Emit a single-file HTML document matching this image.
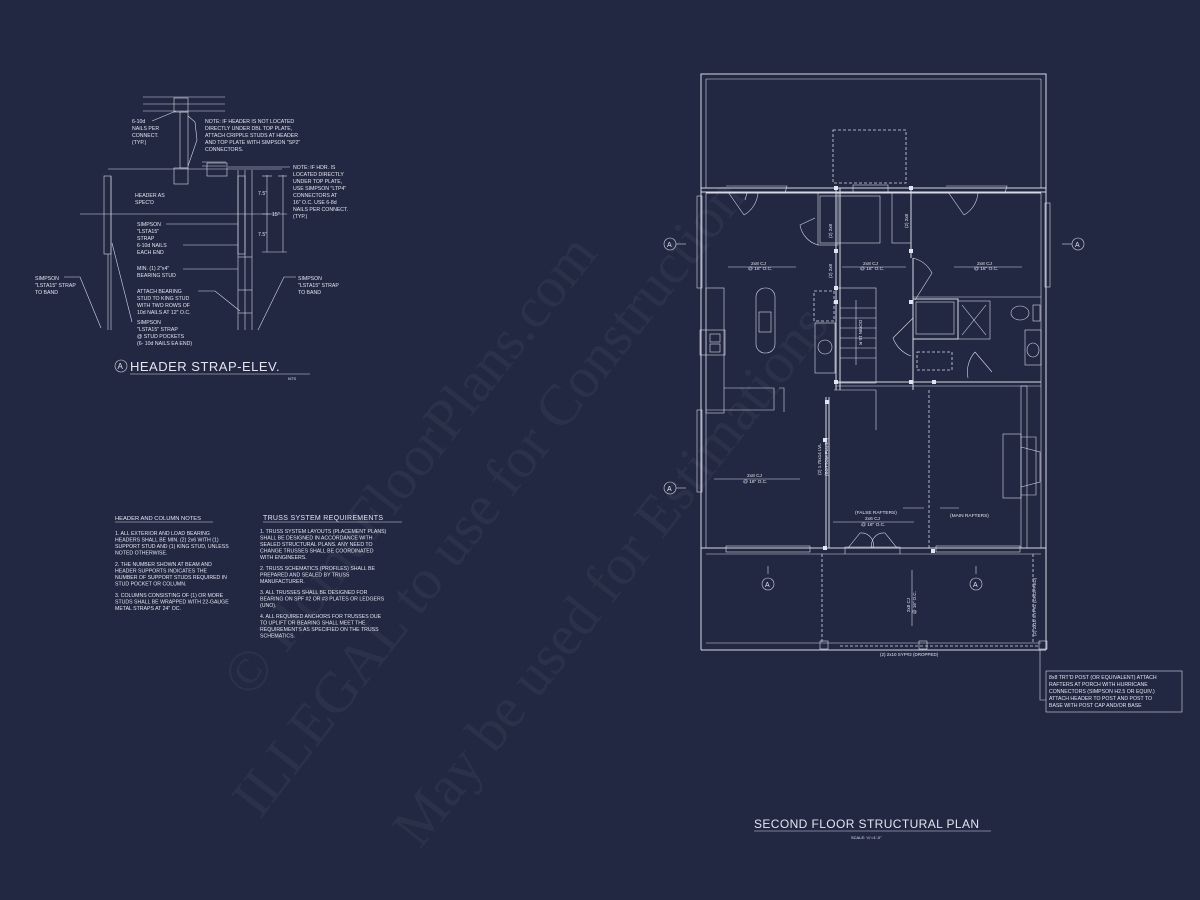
<!DOCTYPE html>
<html><head><meta charset="utf-8"><style>
html,body{margin:0;padding:0;background:#232842;}
svg{display:block}
text{font-family:"Liberation Sans",sans-serif;fill:#e2e4ee;}
.s{stroke:#d6d9e4;fill:none;stroke-width:1}
.t{stroke:#d6d9e4;fill:none;stroke-width:0.6}
.d{stroke:#d6d9e4;fill:none;stroke-width:0.8;stroke-dasharray:3 2}
.n{font-size:5.2px}
.wm{font-family:"Liberation Serif",serif;fill:#ffffff;fill-opacity:0.045;font-size:58px}
</style></head><body>
<svg width="1200" height="900" viewBox="0 0 1200 900" xmlns="http://www.w3.org/2000/svg">
<rect width="1200" height="900" fill="#232842"/>

<!-- watermark -->
<g transform="translate(250,700) rotate(-52)"><text class="wm" x="0" y="0">© HomeFloorPlans.com</text></g>
<g transform="translate(260,820) rotate(-52)"><text class="wm" x="0" y="0">ILLEGAL to use for Construction</text></g>
<g transform="translate(420,850) rotate(-52)"><text class="wm" x="0" y="0">May be used for Estimations</text></g>

<!-- HEADER STRAP DETAIL -->
<g>
<line class="t" x1="143" y1="97" x2="225" y2="97"/><line class="t" x1="143" y1="104" x2="225" y2="104"/><line class="t" x1="143" y1="111" x2="225" y2="111"/>
<rect class="t" x="174" y="98" width="14" height="14"/>
<rect class="t" x="180" y="112" width="8" height="56"/>
<rect class="t" x="174" y="168" width="14" height="16"/>
<line class="t" x1="108" y1="169" x2="282" y2="169"/>
<line class="t" x1="202" y1="162" x2="226" y2="162"/><line class="t" x1="202" y1="166" x2="226" y2="166"/>
<rect class="t" x="207" y="163" width="20" height="13"/>
<rect class="t" x="104" y="176" width="7" height="78"/>
<line class="t" x1="108" y1="254" x2="108" y2="330"/><line class="t" x1="111" y1="176" x2="111" y2="330"/>
<rect class="t" x="238" y="176" width="7" height="78"/>
<line class="t" x1="238" y1="170" x2="238" y2="330"/><line class="t" x1="245" y1="170" x2="245" y2="330"/><line class="t" x1="252" y1="170" x2="252" y2="330"/>
<line class="t" x1="238" y1="257" x2="252" y2="257"/><line class="t" x1="238" y1="290" x2="252" y2="290"/><line class="t" x1="238" y1="313" x2="252" y2="313"/>
<line class="t" x1="80" y1="214" x2="270" y2="214"/>
<line class="t" x1="267" y1="175" x2="267" y2="252"/><line class="t" x1="283" y1="175" x2="283" y2="252"/>
<line class="t" x1="262" y1="176" x2="272" y2="176"/><line class="t" x1="262" y1="252" x2="287" y2="252"/><line class="t" x1="262" y1="214" x2="287" y2="214"/><line class="t" x1="278" y1="176" x2="287" y2="176"/>
<text class="n" x="258" y="195">7.5"</text><text class="n" x="272" y="216">15"</text><text class="n" x="258" y="236">7.5"</text>
<text class="n"><tspan x="132" y="123">6-10d</tspan><tspan x="132" y="130">NAILS PER</tspan><tspan x="132" y="137">CONNECT.</tspan><tspan x="132" y="144">(TYP.)</tspan></text>
<line class="t" x1="152" y1="121" x2="176" y2="111"/>
<text class="n"><tspan x="205" y="123">NOTE: IF HEADER IS NOT LOCATED</tspan><tspan x="205" y="130">DIRECTLY UNDER DBL TOP PLATE,</tspan><tspan x="205" y="137">ATTACH CRIPPLE STUDS AT HEADER</tspan><tspan x="205" y="144">AND TOP PLATE WITH SIMPSON "SP2"</tspan><tspan x="205" y="151">CONNECTORS.</tspan></text>
<polyline class="t" points="188,116 195,122 197,140 188,166"/>
<text class="n"><tspan x="293" y="169">NOTE: IF HDR. IS</tspan><tspan x="293" y="176">LOCATED DIRECTLY</tspan><tspan x="293" y="183">UNDER TOP PLATE,</tspan><tspan x="293" y="190">USE SIMPSON "LTP4"</tspan><tspan x="293" y="197">CONNECTORS AT</tspan><tspan x="293" y="204">16" O.C. USE 6-8d</tspan><tspan x="293" y="211">NAILS PER CONNECT.</tspan><tspan x="293" y="218">(TYP.)</tspan></text>
<line class="t" x1="228" y1="167" x2="290" y2="167"/>
<text class="n"><tspan x="135" y="197">HEADER AS</tspan><tspan x="135" y="204">SPEC'D</tspan></text>
<text class="n"><tspan x="137" y="226">SIMPSON</tspan><tspan x="137" y="233">"LSTA15"</tspan><tspan x="137" y="240">STRAP</tspan><tspan x="137" y="247">6-10d NAILS</tspan><tspan x="137" y="254">EACH END</tspan></text>
<line class="t" x1="166" y1="224" x2="238" y2="224"/><line class="t" x1="183" y1="245" x2="238" y2="245"/>
<text class="n"><tspan x="137" y="270">MIN. (1) 2"x4"</tspan><tspan x="137" y="277">BEARING STUD</tspan></text><line class="t" x1="183" y1="269" x2="238" y2="269"/>
<text class="n"><tspan x="137" y="293">ATTACH BEARING</tspan><tspan x="137" y="300">STUD TO KING STUD</tspan><tspan x="137" y="307">WITH TWO ROWS OF</tspan><tspan x="137" y="314">10d NAILS AT 12" O.C.</tspan></text>
<polyline class="t" points="198,291 215,291 240,311"/>
<text class="n"><tspan x="137" y="324">SIMPSON</tspan><tspan x="137" y="331">"LSTA15" STRAP</tspan><tspan x="137" y="338">@ STUD POCKETS</tspan><tspan x="137" y="345">(6- 10d NAILS EA END)</tspan></text>
<line class="t" x1="132" y1="322" x2="112" y2="243"/>
<text class="n"><tspan x="35" y="280">SIMPSON</tspan><tspan x="35" y="287">"LSTA15" STRAP</tspan><tspan x="35" y="294">TO BAND</tspan></text><polyline class="t" points="64,277 80,277 101,328"/>
<text class="n"><tspan x="298" y="280">SIMPSON</tspan><tspan x="298" y="287">"LSTA15" STRAP</tspan><tspan x="298" y="294">TO BAND</tspan></text><polyline class="t" points="296,277 284,277 258,330"/>
<circle class="t" cx="121" cy="366" r="6"/><text x="117.5" y="369" style="font-size:8px">A</text>
<text x="130" y="371" style="font-size:13px;letter-spacing:0.5px">HEADER STRAP-ELEV.</text>
<line class="t" x1="130" y1="374" x2="310" y2="374"/>
<text class="n" x="288" y="380" style="font-size:4px">NTS</text>
</g>

<!-- NOTES -->
<g>
<text class="n" x="115" y="520" style="font-size:5.8px">HEADER AND COLUMN NOTES</text><line class="t" x1="115" y1="522" x2="213" y2="522"/>
<text class="n"><tspan x="115" y="535">1. ALL EXTERIOR AND LOAD BEARING</tspan><tspan x="115" y="541.5">HEADERS SHALL BE MIN. (2) 2x6 WITH (1)</tspan><tspan x="115" y="548">SUPPORT STUD AND (1) KING STUD, UNLESS</tspan><tspan x="115" y="554.5">NOTED OTHERWISE.</tspan>
<tspan x="115" y="566">2. THE NUMBER SHOWN AT BEAM AND</tspan><tspan x="115" y="572.5">HEADER SUPPORTS INDICATES THE</tspan><tspan x="115" y="579">NUMBER OF SUPPORT STUDS REQUIRED IN</tspan><tspan x="115" y="585.5">STUD POCKET OR COLUMN.</tspan>
<tspan x="115" y="597">3. COLUMNS CONSISTING OF (1) OR MORE</tspan><tspan x="115" y="603.5">STUDS SHALL BE WRAPPED WITH 22-GAUGE</tspan><tspan x="115" y="610">METAL STRAPS AT 24" OC.</tspan></text>
<text x="263" y="520" style="font-size:7px;letter-spacing:0.3px">TRUSS SYSTEM REQUIREMENTS</text><line class="t" x1="263" y1="522" x2="402" y2="522"/>
<text class="n"><tspan x="260" y="533">1. TRUSS SYSTEM LAYOUTS (PLACEMENT PLANS)</tspan><tspan x="260" y="539.5">SHALL BE DESIGNED IN ACCORDANCE WITH</tspan><tspan x="260" y="546">SEALED STRUCTURAL PLANS. ANY NEED TO</tspan><tspan x="260" y="552.5">CHANGE TRUSSES SHALL BE COORDINATED</tspan><tspan x="260" y="559">WITH  ENGINEERS.</tspan>
<tspan x="260" y="570">2. TRUSS SCHEMATICS (PROFILES) SHALL BE</tspan><tspan x="260" y="576.5">PREPARED AND SEALED BY TRUSS</tspan><tspan x="260" y="583">MANUFACTURER.</tspan>
<tspan x="260" y="594">3. ALL TRUSSES SHALL BE DESIGNED FOR</tspan><tspan x="260" y="600.5">BEARING ON SPF #2 OR #3 PLATES OR LEDGERS</tspan><tspan x="260" y="607">(UNO).</tspan>
<tspan x="260" y="618">4. ALL REQUIRED ANCHORS FOR TRUSSES DUE</tspan><tspan x="260" y="624.5">TO UPLIFT OR BEARING SHALL MEET THE</tspan><tspan x="260" y="631">REQUIREMENTS AS SPECIFIED ON THE TRUSS</tspan><tspan x="260" y="637.5">SCHEMATICS.</tspan></text>
</g>

<!-- PLAN -->
<g>
<rect class="s" x="701" y="74" width="345" height="118"/>
<line class="t" x1="706" y1="79" x2="1041" y2="79"/><line class="t" x1="706" y1="79" x2="706" y2="188"/><line class="t" x1="1041" y1="79" x2="1041" y2="188"/>
<rect class="d" x="833" y="130" width="73" height="53"/>
<line class="s" x1="701" y1="188" x2="1046" y2="188"/><line class="s" x1="706" y1="193" x2="1041" y2="193"/>
<line class="s" x1="701" y1="188" x2="701" y2="650"/><line class="t" x1="706" y1="193" x2="706" y2="548"/>
<line class="s" x1="1046" y1="188" x2="1046" y2="650"/><line class="t" x1="1041" y1="193" x2="1041" y2="548"/>
<line class="s" x1="701" y1="548" x2="1046" y2="548"/><line class="t" x1="706" y1="554" x2="1041" y2="554"/>
<polyline class="t" points="726,186 787,186 785,193"/><polyline class="t" points="747,193 745,200"/>
<polyline class="t" points="946,186 1007,186 1005,193"/>
<rect class="t" x="853" y="185" width="35" height="7"/>
<path class="t" d="M728,192 L744,215 M744,215 A28 28 0 0 0 758,193"/>
<path class="t" d="M948,192 L964,215 M964,215 A28 28 0 0 0 978,193"/>
<rect class="t" x="697" y="196" width="5" height="92"/><rect class="t" x="1045" y="203" width="5" height="84"/>
<rect class="t" x="697" y="410" width="5" height="82"/>
<line class="s" x1="836" y1="188" x2="836" y2="390"/><line class="s" x1="840" y1="188" x2="840" y2="390"/>
<line class="s" x1="911" y1="188" x2="911" y2="258"/><line class="s" x1="913" y1="258" x2="913" y2="390"/>
<rect class="t" x="818" y="193" width="20" height="52"/>
<rect class="t" x="820" y="196" width="60" height="47"/>
<rect class="t" x="892" y="193" width="19" height="50"/>
<path class="t" d="M815,218 L800,225 A25 25 0 0 0 818,245"/>
<line class="t" x1="913" y1="297" x2="1041" y2="297"/>
<path class="t" d="M913,258 A30 30 0 0 1 932,273 L915,300"/>
<rect class="s" x="913" y="299" width="45" height="40"/><rect class="t" x="916" y="302" width="38" height="32"/>
<rect class="t" x="958" y="301" width="32" height="38"/><line class="t" x1="962" y1="305" x2="986" y2="335"/><line class="t" x1="986" y1="305" x2="962" y2="335"/>
<ellipse class="t" cx="1020" cy="313" rx="9" ry="7"/><rect class="t" x="1033" y="305" width="7" height="16"/>
<rect class="t" x="1025" y="330" width="16" height="35"/><ellipse class="t" cx="1033" cy="350" rx="6" ry="7"/>
<path class="t" d="M913,318 L893,338 A30 30 0 0 0 911,356"/>
<rect class="d" x="917" y="352" width="35" height="18"/>
<path class="t" d="M975,352 L992,372 M975,352 A30 30 0 0 0 968,378"/>
<line class="s" x1="836" y1="382" x2="1041" y2="382"/><line class="t" x1="836" y1="386" x2="1041" y2="386"/>
<rect class="t" x="836" y="288" width="40" height="95"/>
<g class="t"><line x1="840" y1="308" x2="876" y2="308"/><line x1="840" y1="318" x2="876" y2="318"/><line x1="840" y1="328" x2="876" y2="328"/><line x1="840" y1="338" x2="876" y2="338"/><line x1="840" y1="348" x2="876" y2="348"/><line x1="840" y1="358" x2="876" y2="358"/></g>
<line class="t" x1="856" y1="300" x2="856" y2="365"/>
<line class="t" x1="876" y1="390" x2="876" y2="430"/><line class="t" x1="834" y1="390" x2="876" y2="390"/>
<rect class="d" x="814" y="291" width="20" height="30"/>
<rect class="t" x="815" y="323" width="20" height="50"/><circle class="t" cx="825" cy="347" r="7"/>
<rect class="t" x="706" y="288" width="18" height="125"/>
<rect class="t" x="700" y="330" width="25" height="25"/><rect class="t" x="710" y="334" width="10" height="8"/><rect class="t" x="710" y="344" width="10" height="8"/>
<rect class="t" x="756" y="288" width="19" height="65" rx="9"/><rect class="t" x="759" y="312" width="12" height="20"/>
<polyline class="t" points="724,388 774,388 774,410 706,410"/><polyline class="t" points="779,388 784,388 784,412"/>
<line class="s" x1="826" y1="397" x2="826" y2="548"/><line class="s" x1="829" y1="397" x2="829" y2="548"/>
<line class="d" x1="929" y1="390" x2="929" y2="548"/>
<rect class="t" x="1021" y="386" width="6" height="162"/>
<rect class="t" x="1003" y="434" width="18" height="64"/><polyline class="t" points="1021,437 1036,437 1036,495 1021,495"/><polyline class="t" points="1021,447 1040,452 1040,482 1021,487"/>
<rect class="t" x="726" y="546" width="84" height="6"/><rect class="t" x="936" y="546" width="84" height="6"/>
<polyline class="t" points="845,554 845,547 900,547 900,554"/>
<path class="t" d="M848,548 L860,533 A12 12 0 0 1 873,548 M897,548 L885,533 A12 12 0 0 0 872,548"/>
<line class="s" x1="701" y1="650" x2="1046" y2="650"/><line class="t" x1="706" y1="643" x2="1041" y2="643"/>
<line class="d" x1="822" y1="554" x2="822" y2="643"/>
<line class="d" x1="840" y1="646" x2="1040" y2="646"/>
<rect class="t" x="820" y="641" width="8" height="8"/><rect class="t" x="919" y="641" width="8" height="8"/><rect class="t" x="1039" y="641" width="8" height="8"/>
<line class="d" x1="1033" y1="554" x2="1033" y2="643"/>
<g fill="#e2e4ee"><rect x="834" y="186" width="4" height="4"/><rect x="909" y="186" width="4" height="4"/><rect x="834" y="249" width="4" height="4"/><rect x="909" y="249" width="4" height="4"/><rect x="834" y="286" width="4" height="4"/><rect x="834" y="300" width="4" height="4"/><rect x="909" y="300" width="4" height="4"/><rect x="834" y="380" width="4" height="4"/><rect x="909" y="380" width="4" height="4"/><rect x="825" y="400" width="4" height="4"/><rect x="823" y="546" width="4" height="4"/><rect x="931" y="549" width="4" height="4"/><rect x="932" y="380" width="4" height="4"/><rect x="823" y="438" width="4" height="4"/></g>
<g class="t"><line x1="728" y1="267" x2="796" y2="267"/><line x1="842" y1="267" x2="906" y2="267"/><line x1="954" y1="267" x2="1022" y2="267"/><line x1="714" y1="479" x2="800" y2="479"/><line x1="833" y1="522" x2="914" y2="522"/><line x1="903" y1="508" x2="924" y2="508"/><line x1="940" y1="508" x2="959" y2="508"/><line x1="912" y1="570" x2="912" y2="626"/><line x1="768" y1="566" x2="768" y2="574"/><line x1="976" y1="566" x2="976" y2="574"/></g>
<g class="n" style="font-size:4.8px">
<text x="751" y="265">2x8 CJ</text><text x="748" y="270">@ 16" O.C.</text>
<text x="863" y="265">2x8 CJ</text><text x="860" y="270">@ 16" O.C.</text>
<text x="977" y="265">2x8 CJ</text><text x="974" y="270">@ 16" O.C.</text>
<text x="747" y="477">2x8 CJ</text><text x="743" y="483">@ 16" O.C.</text>
<text x="855" y="514">(FALSE RAFTERS)</text><text x="865" y="520">2x6 CJ</text><text x="861" y="526">@ 16" O.C.</text>
<text x="950" y="517">(MAIN RAFTERS)</text>
<text x="851" y="839" style="font-size:4px">SCALE: ¼"=1'-0"</text>
</g>
<g class="n" style="font-size:4.5px">
<text transform="translate(832,238) rotate(-90)">(2) 2x8</text>
<text transform="translate(908,228) rotate(-90)">(2) 2x8</text>
<text transform="translate(832,278) rotate(-90)">(2) 2x8</text>
<text transform="translate(821,475) rotate(-90)">(2) 1.75x14 LVL</text>
<text transform="translate(828,476) rotate(-90)">(BOTTOM FLUSH)</text>
<text transform="translate(910,612) rotate(-90)">2x8 CJ</text>
<text transform="translate(916,614) rotate(-90)">@ 16" O.C.</text>
<text transform="translate(1036,636) rotate(-90)">(2) 2x10 SYP#2 (DROPPED)</text>
<text x="880" y="656">(2) 2x10 SYP#2 (DROPPED)</text>
<text transform="translate(859,320) rotate(90)">DOWN 15 R</text>
</g>
<g class="t"><circle cx="670" cy="244" r="6"/><line x1="676" y1="244" x2="686" y2="244"/><circle cx="1078" cy="244" r="6"/><line x1="1062" y1="244" x2="1072" y2="244"/><circle cx="670" cy="488" r="6"/><line x1="676" y1="488" x2="686" y2="488"/><circle cx="768" cy="584" r="6"/><circle cx="976" cy="584" r="6"/></g>
<g style="font-size:7px"><text x="667" y="247">A</text><text x="1075" y="247">A</text><text x="667" y="491">A</text><text x="765" y="587">A</text><text x="973" y="587">A</text></g>
<polyline class="t" points="1040,650 1040,700 1046,700"/>
<rect class="t" x="1046" y="671" width="136" height="41"/>
<text class="n"><tspan x="1049" y="679">8x8 TRT'D POST (OR EQUIVALENT) ATTACH</tspan><tspan x="1049" y="686">RAFTERS AT PORCH WITH HURRICANE</tspan><tspan x="1049" y="693">CONNECTORS (SIMPSON H2.5 OR EQUIV.)</tspan><tspan x="1049" y="700">ATTACH HEADER TO POST AND POST TO</tspan><tspan x="1049" y="707">BASE WITH POST CAP AND/OR BASE</tspan></text>
<text x="754" y="828" style="font-size:12px;letter-spacing:0.4px">SECOND FLOOR STRUCTURAL PLAN</text>
<line class="t" x1="754" y1="831" x2="991" y2="831"/>
</g>
</svg>
</body></html>
